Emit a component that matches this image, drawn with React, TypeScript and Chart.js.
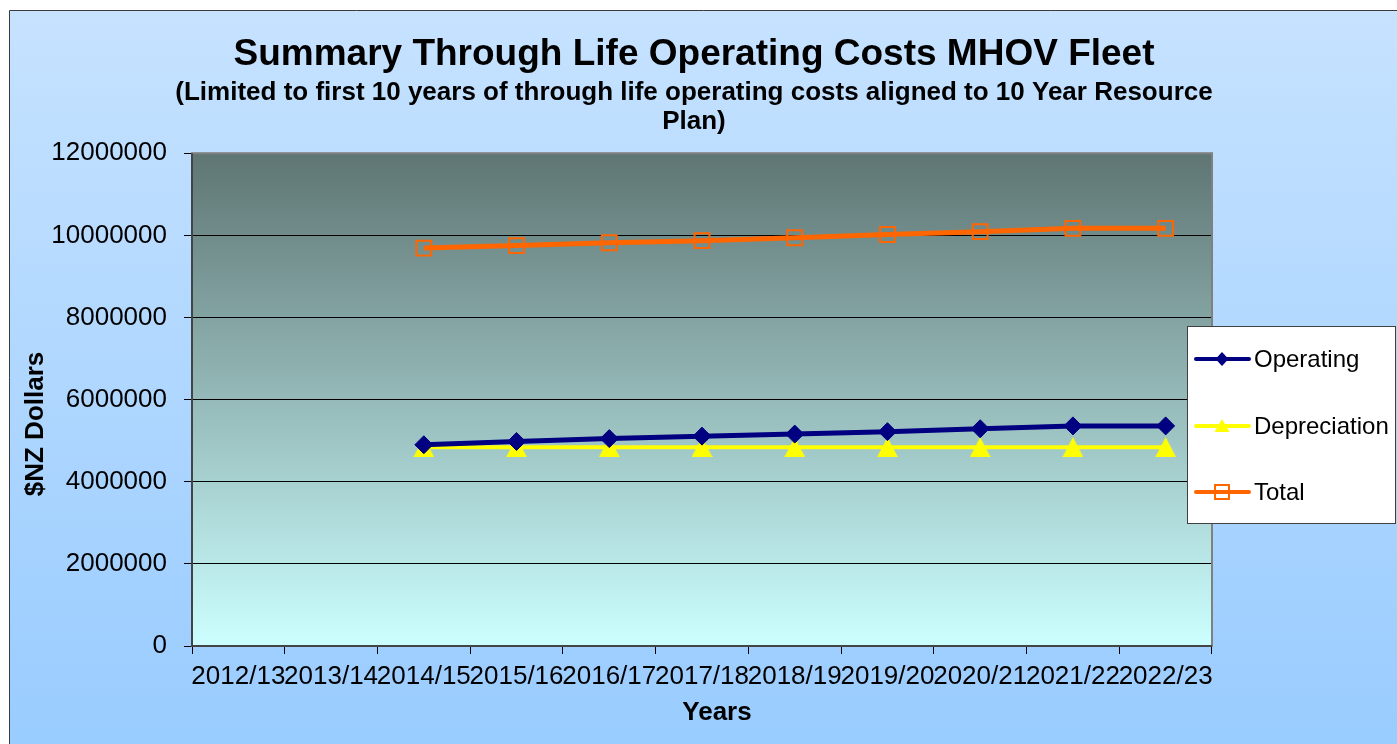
import React, { useEffect, useRef } from 'react';
import { Chart, registerables } from 'chart.js';

Chart.register(...registerables);

const categories = ['2012/13', '2013/14', '2014/15', '2015/16', '2016/17', '2017/18', '2018/19', '2019/20', '2020/21', '2021/22', '2022/23'];
const operating = [null, null, 4900000, 4980000, 5050000, 5110000, 5160000, 5220000, 5290000, 5360000, 5360000];
const depreciation = [null, null, 4840000, 4840000, 4840000, 4840000, 4840000, 4840000, 4840000, 4840000, 4840000];
const total = [null, null, 9690000, 9750000, 9820000, 9870000, 9940000, 10020000, 10090000, 10170000, 10170000];
const yMin = 0;
const yMax = 12000000;
const yStep = 2000000;

const titleText = 'Summary Through Life Operating Costs MHOV Fleet';
const subtitleLines = ['(Limited to first 10 years of through life operating costs aligned to 10 Year Resource', 'Plan)'];
const xTitle = 'Years';
const yTitle = '$NZ Dollars';

const FONT = "'Liberation Sans', Arial, Helvetica, sans-serif";
const markerKinds = ['diamond', 'triangle', 'square'];

function makeTriangle(w: number, h: number, color: string) {
  const c = document.createElement('canvas');
  c.width = w;
  c.height = h;
  const g = c.getContext('2d') as CanvasRenderingContext2D;
  g.fillStyle = color;
  g.beginPath();
  g.moveTo(w / 2, 0);
  g.lineTo(w, h);
  g.lineTo(0, h);
  g.closePath();
  g.fill();
  return c;
}

const backgroundPlugin = {
  id: 'bgPlugin',
  beforeDraw(chart: any) {
    const { ctx, width, height, chartArea } = chart;
    ctx.save();
    ctx.fillStyle = '#ffffff';
    ctx.fillRect(0, 0, width, height);
    const g = ctx.createLinearGradient(0, 10, 0, height);
    g.addColorStop(0, '#c6e2ff');
    g.addColorStop(1, '#99ccff');
    ctx.fillStyle = g;
    ctx.fillRect(9.5, 10.5, width, height);
    ctx.strokeStyle = '#3a3a3a';
    ctx.lineWidth = 1;
    ctx.beginPath();
    ctx.moveTo(9.5, height);
    ctx.lineTo(9.5, 10.5);
    ctx.lineTo(width, 10.5);
    ctx.stroke();
    const { left, top, right, bottom } = chartArea;
    const pg = ctx.createLinearGradient(0, top, 0, bottom);
    pg.addColorStop(0, '#5e7573');
    pg.addColorStop(1, '#ccffff');
    ctx.fillStyle = pg;
    ctx.fillRect(left, top, right - left, bottom - top);
    ctx.restore();
  },
  beforeDatasetsDraw(chart: any) {
    const { ctx, chartArea } = chart;
    const { left, top, right, bottom } = chartArea;
    ctx.save();
    ctx.strokeStyle = '#808080';
    ctx.lineWidth = 2;
    ctx.strokeRect(left, top, right - left, bottom - top);
    ctx.strokeStyle = '#303030';
    ctx.lineWidth = 1.5;
    ctx.beginPath();
    ctx.moveTo(left, top);
    ctx.lineTo(left, bottom);
    ctx.lineTo(right, bottom);
    ctx.stroke();
    ctx.restore();
  },
  afterDraw(chart: any) {
    const { ctx } = chart;
    ctx.save();
    ctx.fillStyle = '#000000';
    ctx.font = `bold 26px ${FONT}`;
    ctx.textAlign = 'center';
    ctx.textBaseline = 'middle';
    ctx.fillText(xTitle, 717, 713);
    ctx.translate(36, 424);
    ctx.rotate(-Math.PI / 2);
    ctx.fillText(yTitle, 0, 0);
    ctx.restore();
  },
};

function drawMarker(ctx: CanvasRenderingContext2D, kind: string, x: number, y: number, color: string) {
  ctx.save();
  if (kind === 'diamond') {
    ctx.fillStyle = color;
    ctx.beginPath();
    ctx.moveTo(x, y - 7);
    ctx.lineTo(x + 6.5, y);
    ctx.lineTo(x, y + 7);
    ctx.lineTo(x - 6.5, y);
    ctx.closePath();
    ctx.fill();
  } else if (kind === 'triangle') {
    ctx.fillStyle = color;
    ctx.beginPath();
    ctx.moveTo(x, y - 7);
    ctx.lineTo(x + 7.5, y + 6);
    ctx.lineTo(x - 7.5, y + 6);
    ctx.closePath();
    ctx.fill();
  } else {
    ctx.strokeStyle = color;
    ctx.lineWidth = 2;
    ctx.strokeRect(x - 7, y - 7, 14, 14);
  }
  ctx.restore();
}

const legendPlugin = {
  id: 'boxLegend',
  afterDraw(chart: any) {
    const { ctx } = chart;
    const bx = 1187.5;
    const by = 326.5;
    const bw = 208;
    const bh = 197;
    ctx.save();
    ctx.fillStyle = '#ffffff';
    ctx.fillRect(bx, by, bw, bh);
    ctx.strokeStyle = '#404040';
    ctx.lineWidth = 1;
    ctx.strokeRect(bx, by, bw, bh);
    const rows = [359, 426, 492];
    chart.data.datasets.forEach((ds: any, i: number) => {
      const y = rows[i];
      ctx.strokeStyle = ds.borderColor;
      ctx.lineWidth = 4;
      ctx.lineCap = 'round';
      ctx.beginPath();
      ctx.moveTo(1196, y);
      ctx.lineTo(1249, y);
      ctx.stroke();
      drawMarker(ctx, markerKinds[i], 1222, y, ds.pointBorderColor || ds.borderColor);
      ctx.fillStyle = '#000000';
      ctx.font = `24px ${FONT}`;
      ctx.textBaseline = 'middle';
      ctx.textAlign = 'left';
      ctx.fillText(ds.label, 1254, y + 1);
    });
    ctx.restore();
  },
};

export default function App() {
  const ref = useRef<HTMLCanvasElement | null>(null);

  useEffect(() => {
    if (!ref.current) return;
    const tri = makeTriangle(21, 20, '#ffff00');
    const chart = new Chart(ref.current, {
      type: 'line',
      data: {
        labels: categories,
        datasets: [
          {
            label: 'Operating',
            data: operating,
            borderColor: '#000080',
            backgroundColor: '#000080',
            pointBackgroundColor: '#000080',
            pointBorderColor: '#000080',
            borderWidth: 5,
            pointStyle: 'rectRot',
            pointRadius: 9,
            pointBorderWidth: 1,
            tension: 0,
          },
          {
            label: 'Depreciation',
            data: depreciation,
            borderColor: '#ffff00',
            backgroundColor: '#ffff00',
            pointBackgroundColor: '#ffff00',
            pointBorderColor: '#ffff00',
            borderWidth: 4,
            pointStyle: tri,
            pointRadius: 11,
            tension: 0,
          },
          {
            label: 'Total',
            data: total,
            borderColor: '#ff6600',
            backgroundColor: 'rgba(0,0,0,0)',
            pointBackgroundColor: 'rgba(0,0,0,0)',
            pointBorderColor: '#ff6600',
            borderWidth: 5,
            pointStyle: 'rect',
            pointRadius: 10.5,
            pointBorderWidth: 2,
            tension: 0,
          },
        ],
      },
      options: {
        responsive: false,
        animation: false,
        layout: { padding: { left: 20, right: 29, top: 0, bottom: 15 } },
        plugins: {
          legend: { display: false },
          tooltip: { enabled: false },
          title: {
            display: true,
            text: titleText,
            color: '#000000',
            font: { family: FONT, size: 37, weight: 'bold', lineHeight: 1.2 },
            padding: { top: 33, bottom: 0 },
          },
          subtitle: {
            display: true,
            text: subtitleLines,
            color: '#000000',
            font: { family: FONT, size: 26, weight: 'bold', lineHeight: 1.15 },
            padding: { top: 0, bottom: 16 },
          },
        },
        scales: {
          x: {
            type: 'category',
            offset: true,
            grid: {
              display: true,
              offset: true,
              drawOnChartArea: false,
              drawTicks: true,
              tickLength: 8,
              color: '#000000',
              lineWidth: 1,
            },
            border: { display: false },
            ticks: {
              color: '#000000',
              font: { family: FONT, size: 26 },
              padding: 7,
              maxRotation: 0,
              minRotation: 0,
              autoSkip: false,
            },
            title: { display: false },
            afterFit(scale: any) {
              scale.height = 83;
            },
          },
          y: {
            min: yMin,
            max: yMax,
            grid: {
              color: '#000000',
              lineWidth: 1,
              drawTicks: true,
              tickLength: 8,
            },
            border: { display: false },
            ticks: {
              stepSize: yStep,
              color: '#000000',
              font: { family: FONT, size: 26 },
              padding: 17,
              callback: (v: any) => String(v),
            },
            title: { display: false },
            afterFit(scale: any) {
              scale.width = 172;
            },
          },
          spacer: {
            type: 'linear',
            position: 'right',
            display: true,
            min: 0,
            max: 1,
            grid: { display: false, drawTicks: false },
            border: { display: false },
            ticks: { display: false },
            title: { display: false },
            afterFit(scale: any) {
              scale.width = 156;
            },
          },
        },
      },
      plugins: [backgroundPlugin, legendPlugin],
    } as any);
    return () => chart.destroy();
  }, []);

  return (
    <div style={{ position: 'fixed', left: 0, top: 0, width: 1397, height: 744 }}>
      <canvas ref={ref} width={1397} height={744} style={{ display: 'block', width: 1397, height: 744 }} />
    </div>
  );
}
